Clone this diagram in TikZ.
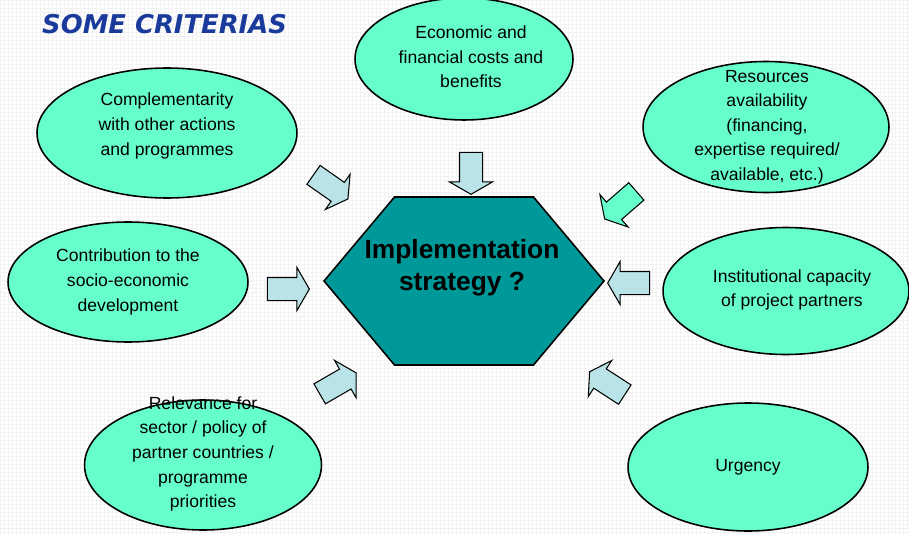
\documentclass[tikz,border=0pt]{standalone}
\usepackage{fontspec}
\setmainfont{Liberation Sans}
\newfontfamily\titlefont{DejaVu Sans}
\usetikzlibrary{shapes, shapes.arrows, shapes.symbols}
\definecolor{critfill}{HTML}{66FFCC}
\definecolor{arrowfill}{HTML}{B9E3E6}
\definecolor{hexfill}{HTML}{009999}
\definecolor{titleblue}{HTML}{1A3A9C}

\begin{document}
\begin{tikzpicture}[x=0.02cm, y=-0.02cm,
		crit/.style={ellipse, draw, line width=0.9pt, fill=critfill, inner sep=0pt},
		crittext/.style={align=center, font=\fontsize{10}{14}\selectfont},
		blockarrow/.style={single arrow, draw, line width=0.6pt, fill=arrowfill, inner sep=0pt,
			text height=0.44cm, text depth=0pt, text width=0pt, minimum height=0.84cm,
			single arrow head extend=0.2cm, single arrow tip angle=120}]
		\useasboundingbox (0,0) rectangle (909,534);
		\draw[black!5, line width=0.4pt, step=0.08cm] (0,0) grid (909,534);
		
		\node[anchor=base west, text=titleblue, font=\titlefont\bfseries\itshape\fontsize{14.7}{16}\selectfont] (title) at (36,33) {SOME CRITERIAS};
		
		\node[crit, minimum width=5.2cm, minimum height=2.6cm] (compl) at (167,133) {};
		\node[crit, minimum width=4.36cm, minimum height=2.44cm] (econ) at (464,59) {};
		\node[crit, minimum width=4.92cm, minimum height=2.62cm] (resrc) at (766,127) {};
		\node[crit, minimum width=4.8cm, minimum height=2.4cm] (contrib) at (128,282) {};
		\node[crit, minimum width=4.92cm, minimum height=2.54cm] (instit) at (786,291) {};
		\node[crit, minimum width=4.74cm, minimum height=2.6cm] (relev) at (203,465) {};
		\node[crit, minimum width=4.8cm, minimum height=2.56cm] (urgency) at (748,467) {};
		
		\node[crittext] (compltext) at (167,126) {Complementarity\\with other actions\\and programmes};
		\node[crittext] (econtext) at (471,57) {Economic and\\financial costs and\\benefits};
		\node[crittext] (resrctext) at (767,127) {Resources\\availability\\(financing,\\expertise required/\\available, etc.)};
		\node[crittext] (contribtext) at (128,282) {Contribution to the\\socio-economic\\development};
		\node[crittext] (instittext) at (792,290) {Institutional capacity\\of project partners};
		\node[crittext] (relevtext) at (203,454) {Relevance for\\sector / policy of\\partner countries /\\programme\\priorities};
		\node[crittext] (urgencytext) at (748,467) {Urgency};
		
		\node[blockarrow, rotate=-35] (arrcompl) at (328,185) {};
		\node[blockarrow, rotate=-90] (arrecon) at (471,170) {};
		\node[blockarrow, rotate=221, fill=critfill] (arrresrc) at (623,203) {};
		\node[blockarrow] (arrcontrib) at (285,289) {};
		\node[blockarrow, rotate=180] (arrinstit) at (632,283) {};
		\node[blockarrow, rotate=30] (arrrelev) at (335,385) {};
		\node[blockarrow, rotate=147] (arrurgency) at (610,385) {};
		
		\node[signal, signal to=east and west, signal pointer angle=100, draw, line width=0.9pt,
			fill=hexfill, inner sep=0pt, minimum width=5.6cm, minimum height=3.36cm] (hex) at (464,281) {};
		\node[align=center, font=\bfseries\fontsize{15}{18}\selectfont] (strat) at (462,268) {Implementation\\strategy ?};
	\end{tikzpicture}
\end{document}
